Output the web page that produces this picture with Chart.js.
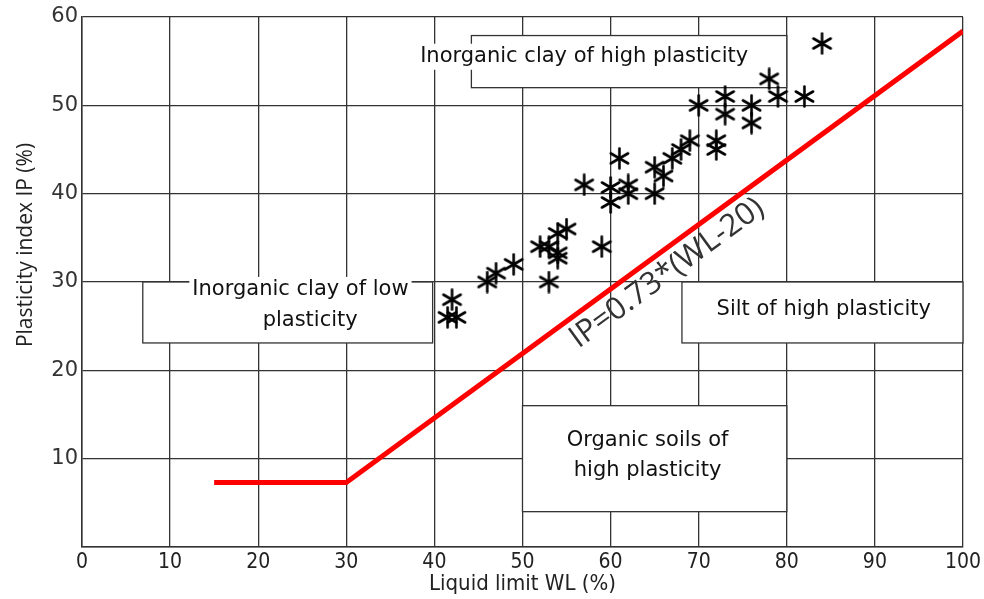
<!DOCTYPE html>
<html lang="en">
<head>
    <meta charset="UTF-8">
    <title>Plasticity chart</title>
    <script src="https://cdn.jsdelivr.net/npm/chart.js@4.4.1/dist/chart.umd.min.js"></script>
    <style>
        body {
            margin: 0;
            background: #fff;
        }
        .chart-box {
            width: 984px;
            height: 599px;
        }
    </style>
</head>
<body>
    <div class="chart-box">
        <canvas id="chart"></canvas>
    </div>

    <script>
        // measured samples: liquid limit WL (%) and plasticity index IP (%)
        const wlValues = [41.5, 42.5, 42, 46, 47, 49, 52, 53, 54, 54, 54, 55, 53, 59,
            57, 60, 60, 62, 62, 61, 65, 65, 66, 67, 68, 69, 72, 72,
            70, 73, 73, 76, 76, 78, 79, 82, 84];
        const ipValues = [26, 26, 28, 30, 31, 32, 34, 34, 33.3, 32.7, 35.5, 36, 30, 34,
            41, 40.7, 39, 41, 40, 44, 40, 43, 42, 44, 45, 46, 46, 45,
            50, 51, 49, 50, 48, 53, 51, 51, 57];

        // A-line: IP = 0.73*(WL-20), flat part on the left
        const aLineWL = [15, 30, 100];
        const aLineIP = [7.3, 7.3, 58.4];

        const xTicks = [0, 10, 20, 30, 40, 50, 60, 70, 80, 90, 100];
        const yTicks = [10, 20, 30, 40, 50, 60];

        const zoneLabels = [
            { box: [44.2, 80, 52, 57.9], lines: [['Inorganic clay of high plasticity', 57, 55.5]] },
            { box: [6.9, 39.8, 23.1, 30], lines: [['Inorganic clay of low', 24.8, 29.1], ['plasticity', 25.9, 25.6]] },
            { box: [68.1, 100, 23.1, 30], lines: [['Silt of high plasticity', 84.2, 26.9]] },
            { box: [50, 80, 4, 16], lines: [['Organic soils of', 64.2, 12.1], ['high plasticity', 64.2, 8.7]] }
        ];
        const lineLabel = 'IP=0.73*(WL-20)';

        const LABEL_FONT = '21px "DejaVu Sans", sans-serif';

        // six-spoke asterisk marker
        function makeStar(size) {
            const c = document.createElement('canvas');
            c.width = size;
            c.height = size;
            const g = c.getContext('2d');
            const r = size / 2 - 1.5;
            g.strokeStyle = '#000';
            g.lineWidth = 2.6;
            g.lineCap = 'round';
            g.translate(size / 2, size / 2);
            for (let k = 0; k < 3; k++) {
                const a = Math.PI / 2 + k * Math.PI / 3;
                g.beginPath();
                g.moveTo(Math.cos(a) * r, Math.sin(a) * r);
                g.lineTo(-Math.cos(a) * r, -Math.sin(a) * r);
                g.stroke();
            }
            return c;
        }

        const zonesPlugin = {
            id: 'zones',
            beforeDatasetsDraw(chart) {
                const { ctx, scales: { x, y } } = chart;
                ctx.save();
                zoneLabels.forEach(z => {
                    const [x1, x2, y1, y2] = z.box;
                    const px1 = x.getPixelForValue(x1), px2 = x.getPixelForValue(x2);
                    const py1 = y.getPixelForValue(y2), py2 = y.getPixelForValue(y1);
                    ctx.fillStyle = '#fff';
                    ctx.fillRect(px1, py1, px2 - px1, py2 - py1);
                    ctx.strokeStyle = '#333';
                    ctx.lineWidth = 1.3;
                    ctx.strokeRect(px1, py1, px2 - px1, py2 - py1);
                });
                ctx.font = LABEL_FONT;
                ctx.textAlign = 'center';
                ctx.textBaseline = 'middle';
                zoneLabels.forEach(z => {
                    z.lines.forEach(([txt, lx, ly]) => {
                        const px = x.getPixelForValue(lx), py = y.getPixelForValue(ly);
                        const w = ctx.measureText(txt).width;
                        ctx.fillStyle = '#fff';
                        ctx.fillRect(px - w / 2 - 3, py - 13, w + 6, 26);
                        ctx.fillStyle = '#111';
                        ctx.fillText(txt, px, py);
                    });
                });
                ctx.restore();
            },
            afterDraw(chart) {
                const { ctx, scales: { x, y }, chartArea } = chart;
                ctx.save();
                // rotated A-line label
                const ax = x.getPixelForValue(aLineWL[1]), ay = y.getPixelForValue(aLineIP[1]);
                const bx = x.getPixelForValue(aLineWL[2]), by = y.getPixelForValue(aLineIP[2]);
                const ang = Math.atan2(by - ay, bx - ax);
                ctx.translate(x.getPixelForValue(66.4), y.getPixelForValue(31.0));
                ctx.rotate(ang);
                ctx.font = '31px "Open Sans", sans-serif';
                ctx.fillStyle = '#333';
                ctx.textAlign = 'center';
                ctx.textBaseline = 'middle';
                ctx.fillText(lineLabel, 0, 0);
                ctx.restore();

                // axis titles
                ctx.save();
                ctx.fillStyle = '#222';
                ctx.textAlign = 'center';
                ctx.textBaseline = 'middle';
                ctx.font = '22px "DejaVu Sans Condensed", "Liberation Sans Narrow", sans-serif';
                ctx.fillText('Liquid limit WL (%)', (chartArea.left + chartArea.right) / 2, 584);
                ctx.translate(26, 245);
                ctx.rotate(-Math.PI / 2);
                ctx.font = '21px "Open Sans", sans-serif';
                ctx.fillText('Plasticity index IP (%)', 0, 0);
                ctx.restore();
            }
        };

        const starImg = makeStar(23);

        const gridStyle = {
            color: '#333',
            lineWidth: 1.3,
            drawTicks: false
        };

        new Chart(document.getElementById('chart'), {
            type: 'scatter',
            data: {
                datasets: [
                    {
                        label: 'Samples',
                        data: wlValues.map((v, i) => ({ x: v, y: ipValues[i] })),
                        pointStyle: starImg,
                        pointRadius: 12,
                        order: 0
                    },
                    {
                        label: 'A-line',
                        data: aLineWL.map((v, i) => ({ x: v, y: aLineIP[i] })),
                        showLine: true,
                        borderColor: '#ff0000',
                        borderWidth: 5,
                        pointRadius: 0,
                        tension: 0,
                        order: 1
                    }
                ]
            },
            options: {
                responsive: true,
                maintainAspectRatio: false,
                animation: false,
                layout: {
                    padding: { top: 17, right: 20, left: 0, bottom: 0 }
                },
                plugins: {
                    legend: { display: false },
                    tooltip: { enabled: false }
                },
                scales: {
                    x: {
                        type: 'linear',
                        min: 0,
                        max: 100,
                        afterBuildTicks: s => { s.ticks = xTicks.map(v => ({ value: v })); },
                        afterFit: s => { s.height = 52; },
                        grid: gridStyle,
                        border: { color: '#333', width: 1.5 },
                        ticks: {
                            padding: 3,
                            color: '#222',
                            font: { family: '"DejaVu Sans Condensed", "Liberation Sans Narrow", sans-serif', size: 21 }
                        }
                    },
                    y: {
                        type: 'linear',
                        min: 0,
                        max: 60,
                        afterBuildTicks: s => { s.ticks = [0].concat(yTicks).map(v => ({ value: v })); },
                        afterFit: s => { s.width = 82; },
                        grid: gridStyle,
                        border: { color: '#333', width: 1.5 },
                        ticks: {
                            padding: 4,
                            color: '#333',
                            font: { family: '"DejaVu Sans", sans-serif', size: 21 },
                            callback: v => v === 0 ? '' : v
                        }
                    }
                }
            },
            plugins: [zonesPlugin]
        });
    </script>
</body>
</html>
